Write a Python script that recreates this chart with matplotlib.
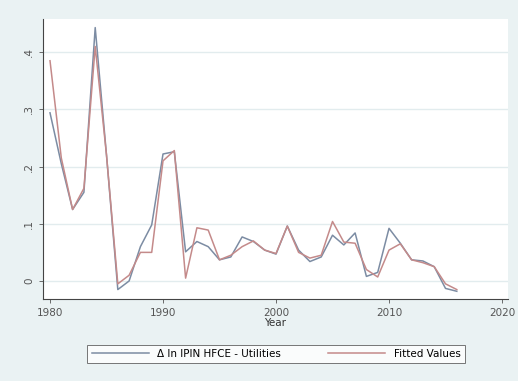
import numpy as np
import matplotlib
matplotlib.use('Agg')
import matplotlib.pyplot as plt

# data
years = list(range(1980, 2017))
actual = [0.294, 0.205, 0.125, 0.155, 0.443, 0.22, -0.015, 0.0, 0.06, 0.098,
          0.222, 0.226, 0.051, 0.069, 0.06, 0.037, 0.042, 0.077, 0.069, 0.054,
          0.047, 0.096, 0.054, 0.034, 0.042, 0.08, 0.063, 0.084, 0.008, 0.015,
          0.092, 0.066, 0.037, 0.035, 0.025, -0.013, -0.018]
fitted = [0.385, 0.215, 0.125, 0.162, 0.41, 0.22, -0.005, 0.01, 0.05, 0.05,
          0.21, 0.228, 0.005, 0.093, 0.089, 0.037, 0.045, 0.06, 0.07, 0.054,
          0.048, 0.096, 0.05, 0.04, 0.045, 0.104, 0.068, 0.066, 0.02, 0.007,
          0.054, 0.065, 0.037, 0.032, 0.025, -0.005, -0.015]
xticks = [1980, 1990, 2000, 2010, 2020]
yticks = [0, 0.1, 0.2, 0.3, 0.4]
ylabels = ['0', '.1', '.2', '.3', '.4']

bg = '#eaf2f3'
fig = plt.figure(figsize=(5.18, 3.81), dpi=100, facecolor=bg)
ax = fig.add_axes([43 / 518, 1 - 299 / 381, 465 / 518, 280 / 381])
ax.set_facecolor('white')

l1, = ax.plot(years, actual, color='#7c8ca3', lw=1.1)
l2, = ax.plot(years, fitted, color='#c48a8a', lw=1.1)

ax.set_xlim(1979.38, 2020.53)
ax.set_ylim(-0.0315, 0.458)
ax.set_xticks(xticks)
ax.set_yticks(yticks)
ax.set_yticklabels(ylabels, rotation=90, va='center')
ax.tick_params(labelsize=7.5, colors='#555555', length=3, width=0.6)
ax.grid(axis='y', color='#e2ecee', lw=1.0)
ax.set_axisbelow(True)
for s in ['top', 'right']:
    ax.spines[s].set_visible(False)
for s in ['left', 'bottom']:
    ax.spines[s].set_color('#444444')
    ax.spines[s].set_linewidth(0.8)
ax.set_xlabel('Year', fontsize=7.5, color='#333333', labelpad=0)

leg = fig.legend([l1, l2], ['\u0394 ln IPIN HFCE - Utilities', 'Fitted Values'],
                 loc='center', bbox_to_anchor=(276 / 518, 1 - 354 / 381),
                 ncol=2, fontsize=7.5, frameon=True, fancybox=False,
                 handlelength=5.5, columnspacing=4.5, borderpad=0.4)
leg.get_frame().set_edgecolor('#555555')
leg.get_frame().set_linewidth(0.7)
leg.get_frame().set_facecolor('white')

fig.savefig('out.png', dpi=100, facecolor=bg)
